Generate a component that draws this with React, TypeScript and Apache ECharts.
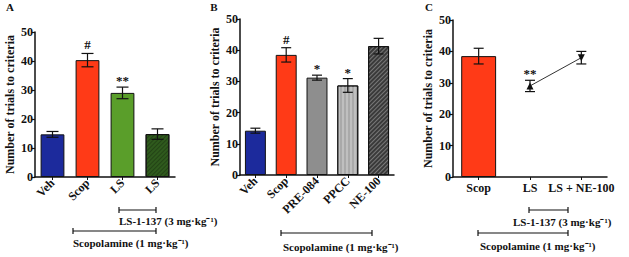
import React, { useEffect, useRef } from "react";
import * as echarts from "echarts";

// Panel A
const catsA = ["Veh", "Scop", "LS", "LS"];
const meanA = [14.7, 40.3, 29.0, 14.8];
const semA = [1.0, 2.3, 2.0, 1.8];
const markA = ["", "#", "**", ""];

// Panel B
const catsB = ["Veh", "Scop", "PRE-084", "PPCC", "NE-100"];
const meanB = [14.2, 38.5, 31.2, 28.7, 41.3];
const semB = [0.8, 2.3, 0.8, 2.2, 2.5];
const markB = ["", "#", "*", "*", ""];

// Panel C
const catsC = ["Scop", "LS", "LS + NE-100"];
const barC = [38.5, null, null];
const lineC = [null, 29.0, 38.0];
const meanC = [38.5, 29.0, 38.0];
const semC = [2.5, 1.8, 2.0];
const markC = ["", "**", ""];

const yMin = 0;
const yMax = 50;
const yStep = 10;
const yTitle = "Number of trials to criteria";

const FONT = '"Liberation Serif", "Times New Roman", serif';
const INK = "#111";

const colorsA = ["#1c2a9c", "#ff3a17", "#5a9e2a", "#2f5a1d"];
const colorsB = ["#1c2a9c", "#ff3a17", "#8e8e8e", "#a9a9a9", "#3a3a3a"];
const colorC = "#ff3a17";

const decalFor = (kind: string) => {
  if (kind === "diagDark")
    return { symbol: "rect", symbolSize: 1, color: "rgba(0,0,0,0.25)", dashArrayX: [1, 0], dashArrayY: [1, 2], rotation: -Math.PI / 4 };
  if (kind === "diagLight")
    return { symbol: "rect", symbolSize: 1, color: "rgba(170,170,170,0.55)", dashArrayX: [1, 0], dashArrayY: [1, 2], rotation: -Math.PI / 4 };
  if (kind === "vert")
    return { symbol: "rect", symbolSize: 1, color: "rgba(255,255,255,0.25)", dashArrayX: [1, 0], dashArrayY: [2, 2], rotation: Math.PI / 2 };
  return undefined;
};

const decalsA = ["", "", "", "diagDark"];
const decalsB = ["", "", "", "vert", "diagLight"];

function barItems(vals: (number | null)[], colors: string[], decals: string[]) {
  return vals.map((v, i) => ({
    value: v,
    itemStyle: {
      color: colors[i],
      borderColor: INK,
      borderWidth: 1,
      decal: decalFor(decals[i]),
    },
  }));
}

function errSeries(idx: number, means: number[], sems: number[], marks: string[], capHalf: number) {
  return {
    type: "custom",
    xAxisIndex: idx,
    yAxisIndex: idx,
    z: 10,
    silent: true,
    encode: { x: 0, y: 1 },
    data: means.map((m, i) => [i, m, sems[i]]),
    renderItem: (params: any, api: any) => {
      const x = api.value(0);
      const m = api.value(1);
      const s = api.value(2);
      const top = api.coord([x, m + s]);
      const bot = api.coord([x, m - s]);
      const st = { stroke: INK, lineWidth: 1.2 };
      const children: any[] = [
        { type: "line", shape: { x1: top[0], y1: top[1], x2: bot[0], y2: bot[1] }, style: st },
        { type: "line", shape: { x1: top[0] - capHalf, y1: top[1], x2: top[0] + capHalf, y2: top[1] }, style: st },
        { type: "line", shape: { x1: bot[0] - capHalf, y1: bot[1], x2: bot[0] + capHalf, y2: bot[1] }, style: st },
      ];
      const mk = marks[params.dataIndex];
      if (mk) {
        children.push({
          type: "text",
          style: {
            text: mk,
            x: top[0],
            y: top[1] - (mk === "#" ? 2 : 0),
            align: "center",
            verticalAlign: "bottom",
            font: `bold 13px ${FONT}`,
            fill: INK,
          },
        });
      }
      return { type: "group", children };
    },
  };
}

function yAxisFor(idx: number) {
  return {
    type: "value",
    gridIndex: idx,
    min: yMin,
    max: yMax,
    interval: yStep,
    name: yTitle,
    nameLocation: "middle",
    nameRotate: 90,
    nameGap: 19,
    nameTextStyle: { fontFamily: FONT, fontWeight: "bold", fontSize: 12, color: INK },
    axisLine: { show: true, lineStyle: { color: INK, width: 1.5 } },
    axisTick: { show: true, length: 3, lineStyle: { color: INK, width: 1.2 } },
    axisLabel: { fontFamily: FONT, fontWeight: "bold", fontSize: 12, color: INK, margin: 2 },
    splitLine: { show: false },
  };
}

function xAxisFor(idx: number, cats: string[], rotate: number) {
  return {
    type: "category",
    gridIndex: idx,
    data: cats,
    axisLine: { show: true, lineStyle: { color: INK, width: 1.5 } },
    axisTick: { show: true, alignWithLabel: true, length: 3, lineStyle: { color: INK } },
    axisLabel: {
      rotate,
      interval: 0,
      fontFamily: FONT,
      fontWeight: "bold",
      fontSize: 12,
      color: INK,
      margin: rotate ? 4 : 5,
    },
  };
}

function bracket(x1: number, x2: number, y: number, text: string, tx: number, ty: number) {
  const st = { stroke: INK, lineWidth: 1.2 };
  return [
    { type: "line", shape: { x1, y1: y, x2, y2: y }, style: st },
    { type: "line", shape: { x1, y1: y - 3, x2: x1, y2: y + 3 }, style: st },
    { type: "line", shape: { x1: x2, y1: y - 3, x2, y2: y + 3 }, style: st },
    {
      type: "text",
      x: tx,
      y: ty,
      style: { text, font: `bold 11px ${FONT}`, fill: INK, align: "left", verticalAlign: "middle" },
    },
  ];
}

function panelLetter(t: string, x: number, y: number) {
  return { type: "text", x, y, style: { text: t, font: `bold 11px ${FONT}`, fill: INK, align: "center", verticalAlign: "middle" } };
}

export default function App() {
  const ref = useRef<HTMLDivElement>(null);
  useEffect(() => {
    if (!ref.current) return;
    const chart = echarts.init(ref.current, null, { renderer: "svg" });
    const option: any = {
      animation: false,
      backgroundColor: "#fff",
      grid: [
        { left: 35, top: 32, width: 140, height: 145 },
        { left: 240, top: 19, width: 154, height: 156 },
        { left: 453, top: 20, width: 154, height: 157 },
      ],
      xAxis: [xAxisFor(0, catsA, 45), xAxisFor(1, catsB, 45), xAxisFor(2, catsC, 0)],
      yAxis: [yAxisFor(0), yAxisFor(1), yAxisFor(2)],
      series: [
        { type: "bar", xAxisIndex: 0, yAxisIndex: 0, barWidth: "68%", data: barItems(meanA, colorsA, decalsA) },
        errSeries(0, meanA, semA, markA, 6),
        { type: "bar", xAxisIndex: 1, yAxisIndex: 1, barWidth: "68%", data: barItems(meanB, colorsB, decalsB) },
        errSeries(1, meanB, semB, markB, 5),
        {
          type: "bar",
          xAxisIndex: 2,
          yAxisIndex: 2,
          barWidth: "68%",
          data: barC.map((v) => ({ value: v, itemStyle: { color: colorC, borderColor: INK, borderWidth: 1 } })),
        },
        {
          type: "line",
          xAxisIndex: 2,
          yAxisIndex: 2,
          z: 8,
          symbolSize: 7,
          lineStyle: { color: "#333", width: 1 },
          itemStyle: { color: INK },
          data: lineC.map((v, i) => ({ value: v, symbol: "triangle", symbolRotate: i === 2 ? 180 : 0 })),
        },
        errSeries(2, meanC, semC, markC, 5),
      ],
      graphic: [
        panelLetter("A", 10, 7),
        panelLetter("B", 214, 7),
        panelLetter("C", 429, 7),
        ...bracket(119, 156, 210, "LS-1-137 (3 mg·kg⁻¹)", 119, 221),
        ...bracket(73, 156, 231, "Scopolamine (1 mg·kg⁻¹)", 73, 243),
        ...bracket(281, 372, 233, "Scopolamine (1 mg·kg⁻¹)", 283, 247),
        ...bracket(529, 568, 210, "LS-1-137 (3 mg·kg⁻¹)", 513, 222),
        ...bracket(478, 568, 233, "Scopolamine (1 mg·kg⁻¹)", 480, 246),
      ],
    };
    chart.setOption(option);
    return () => chart.dispose();
  }, []);
  return (
    <div
      ref={ref}
      style={{ position: "fixed", left: 0, top: 0, width: 629, height: 257, background: "#fff" }}
    />
  );
}
